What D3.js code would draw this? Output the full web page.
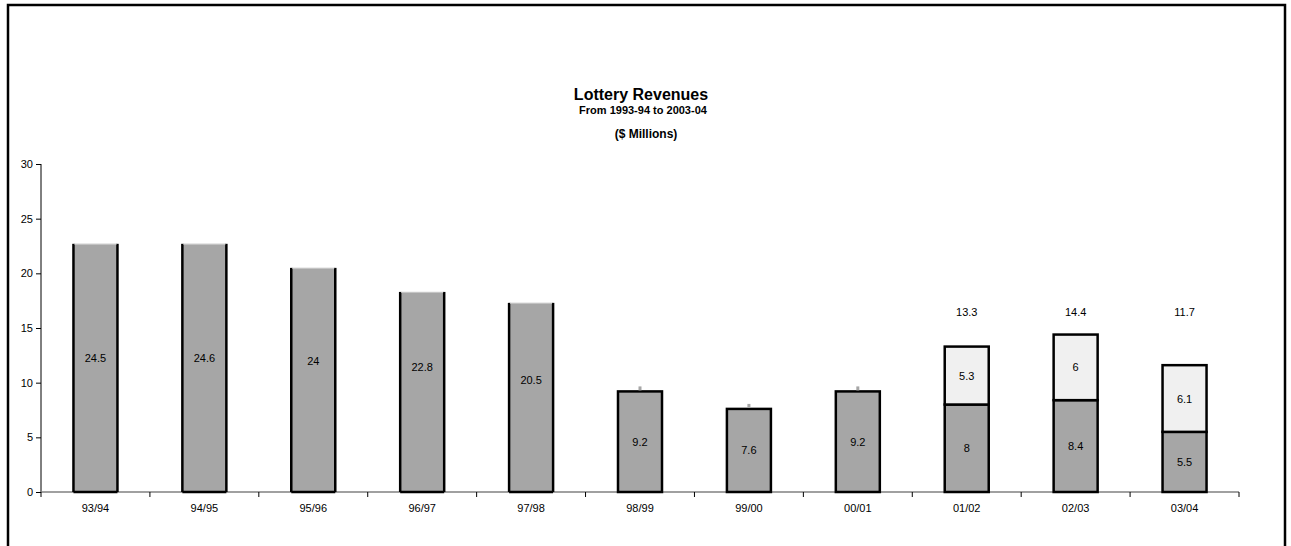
<!DOCTYPE html>
<html><head><meta charset="utf-8">
<script src="https://cdn.jsdelivr.net/npm/d3@7"></script>
<style>body{margin:0;background:#fff}svg{display:block;font-family:Arial,"Liberation Sans",sans-serif}</style>
</head><body><svg id="c" width="1291" height="546"></svg>
<script>
const categories = ["93/94","94/95","95/96","96/97","97/98","98/99","99/00","00/01","01/02","02/03","03/04"];
// labelled values of the lower (dark) segment
const baseValues = [24.5, 24.6, 24, 22.8, 20.5, 9.2, 7.6, 9.2, 8, 8.4, 5.5];
// height at which the lower segment is actually drawn (first five are cut off in the original)
const baseDrawn = [22.7, 22.7, 20.5, 18.3, 17.3, 9.2, 7.6, 9.2, 8, 8.4, 5.5];
// upper (light) segment
const topValues = [null, null, null, null, null, null, null, null, 5.3, 6, 6.1];
const totals = [null, null, null, null, null, null, null, null, 13.3, 14.4, 11.7];
const yTicks = [0, 5, 10, 15, 20, 25, 30];

const svg = d3.select("#c");
const x = d3.scaleBand().domain(categories).range([41, 1239]).paddingInner(0).paddingOuter(0);
const y = d3.scaleLinear().domain([0, 30]).range([492, 164]);
const bw = 44;
const cx = d => x(d) + x.bandwidth() / 2;

// frame
svg.append("rect").attr("x", 8).attr("y", 5).attr("width", 1277).attr("height", 700)
  .attr("fill", "none").attr("stroke", "#000").attr("stroke-width", 2.5);

// titles
svg.append("text").attr("x", 641).attr("y", 100).attr("text-anchor", "middle")
  .attr("font-size", 16).attr("font-weight", "bold").text("Lottery Revenues");
svg.append("text").attr("x", 643).attr("y", 114).attr("text-anchor", "middle")
  .attr("font-size", 11).attr("font-weight", "bold").text("From 1993-94 to 2003-04");
svg.append("text").attr("x", 646).attr("y", 138).attr("text-anchor", "middle")
  .attr("font-size", 12).attr("font-weight", "bold").text("($ Millions)");

// y axis
const yAxis = svg.append("g").attr("transform", "translate(41,0)")
  .call(d3.axisLeft(y).tickValues(yTicks).tickSize(5).tickPadding(3));
yAxis.select(".domain").attr("stroke", "#000").attr("d", `M0,${y(30)}V${y(0)}`);
yAxis.selectAll(".tick line").attr("stroke", "#000");
yAxis.selectAll(".tick text").attr("font-size", 11).attr("fill", "#000").attr("font-family", "Arial, 'Liberation Sans', sans-serif");

// x axis
const xg = svg.append("g").attr("transform", `translate(0,${y(0)})`);
xg.append("line").attr("x1", 41).attr("x2", 1239).attr("stroke", "#808080").attr("stroke-width", 1.5);
const bounds = categories.map(d => x(d)).concat([x.range()[1]]);
xg.selectAll(".xt").data(bounds).join("line").attr("class", "xt")
  .attr("x1", d => d).attr("x2", d => d).attr("y1", 0).attr("y2", 5).attr("stroke", "#000");
xg.selectAll(".xl").data(categories).join("text").attr("class", "xl")
  .attr("x", d => cx(d)).attr("y", 20).attr("text-anchor", "middle")
  .attr("font-size", 11).text(d => d);

// bars
const bars = svg.append("g");
categories.forEach((c, i) => {
  const x0 = cx(c) - bw / 2;
  const h = baseDrawn[i];
  const clipped = h < baseValues[i];
  bars.append("rect").attr("x", x0).attr("y", y(h)).attr("width", bw).attr("height", y(0) - y(h))
    .attr("fill", "#a6a6a6").attr("stroke", clipped ? "none" : "#000").attr("stroke-width", 2.5);
  if (clipped) {
    const g = bars.append("g").attr("stroke", "#000").attr("stroke-width", 2.5);
    g.append("line").attr("x1", x0).attr("x2", x0).attr("y1", y(h)).attr("y2", y(0));
    g.append("line").attr("x1", x0 + bw).attr("x2", x0 + bw).attr("y1", y(h)).attr("y2", y(0));
    g.append("line").attr("x1", x0).attr("x2", x0 + bw).attr("y1", y(0)).attr("y2", y(0));
    bars.append("line").attr("x1", x0 + 1).attr("x2", x0 + bw - 1).attr("y1", y(h) + 0.5).attr("y2", y(h) + 0.5)
      .attr("stroke", "#c8c8c8").attr("stroke-width", 1);
  }
  if (topValues[i] != null) {
    const t = topValues[i];
    bars.append("rect").attr("x", x0).attr("y", y(h + t)).attr("width", bw).attr("height", y(h) - y(h + t))
      .attr("fill", "#f0f0f0").attr("stroke", "#000").attr("stroke-width", 2.5);
    bars.append("text").attr("x", cx(c)).attr("y", y(h + t / 2) + 4).attr("text-anchor", "middle")
      .attr("font-size", 11).text(t);
    bars.append("text").attr("x", cx(c)).attr("y", y(16.5) + 4).attr("text-anchor", "middle")
      .attr("font-size", 11).text(totals[i]);
  } else if (!clipped) {
    // tiny zero-height segment marker
    bars.append("rect").attr("x", cx(c) - 1.5).attr("y", y(h) - 5).attr("width", 3).attr("height", 4)
      .attr("fill", "#a6a6a6");
  }
  bars.append("text").attr("x", cx(c)).attr("y", y(baseValues[i] / 2) + 4).attr("text-anchor", "middle")
    .attr("font-size", 11).text(baseValues[i]);
});
</script></body></html>
